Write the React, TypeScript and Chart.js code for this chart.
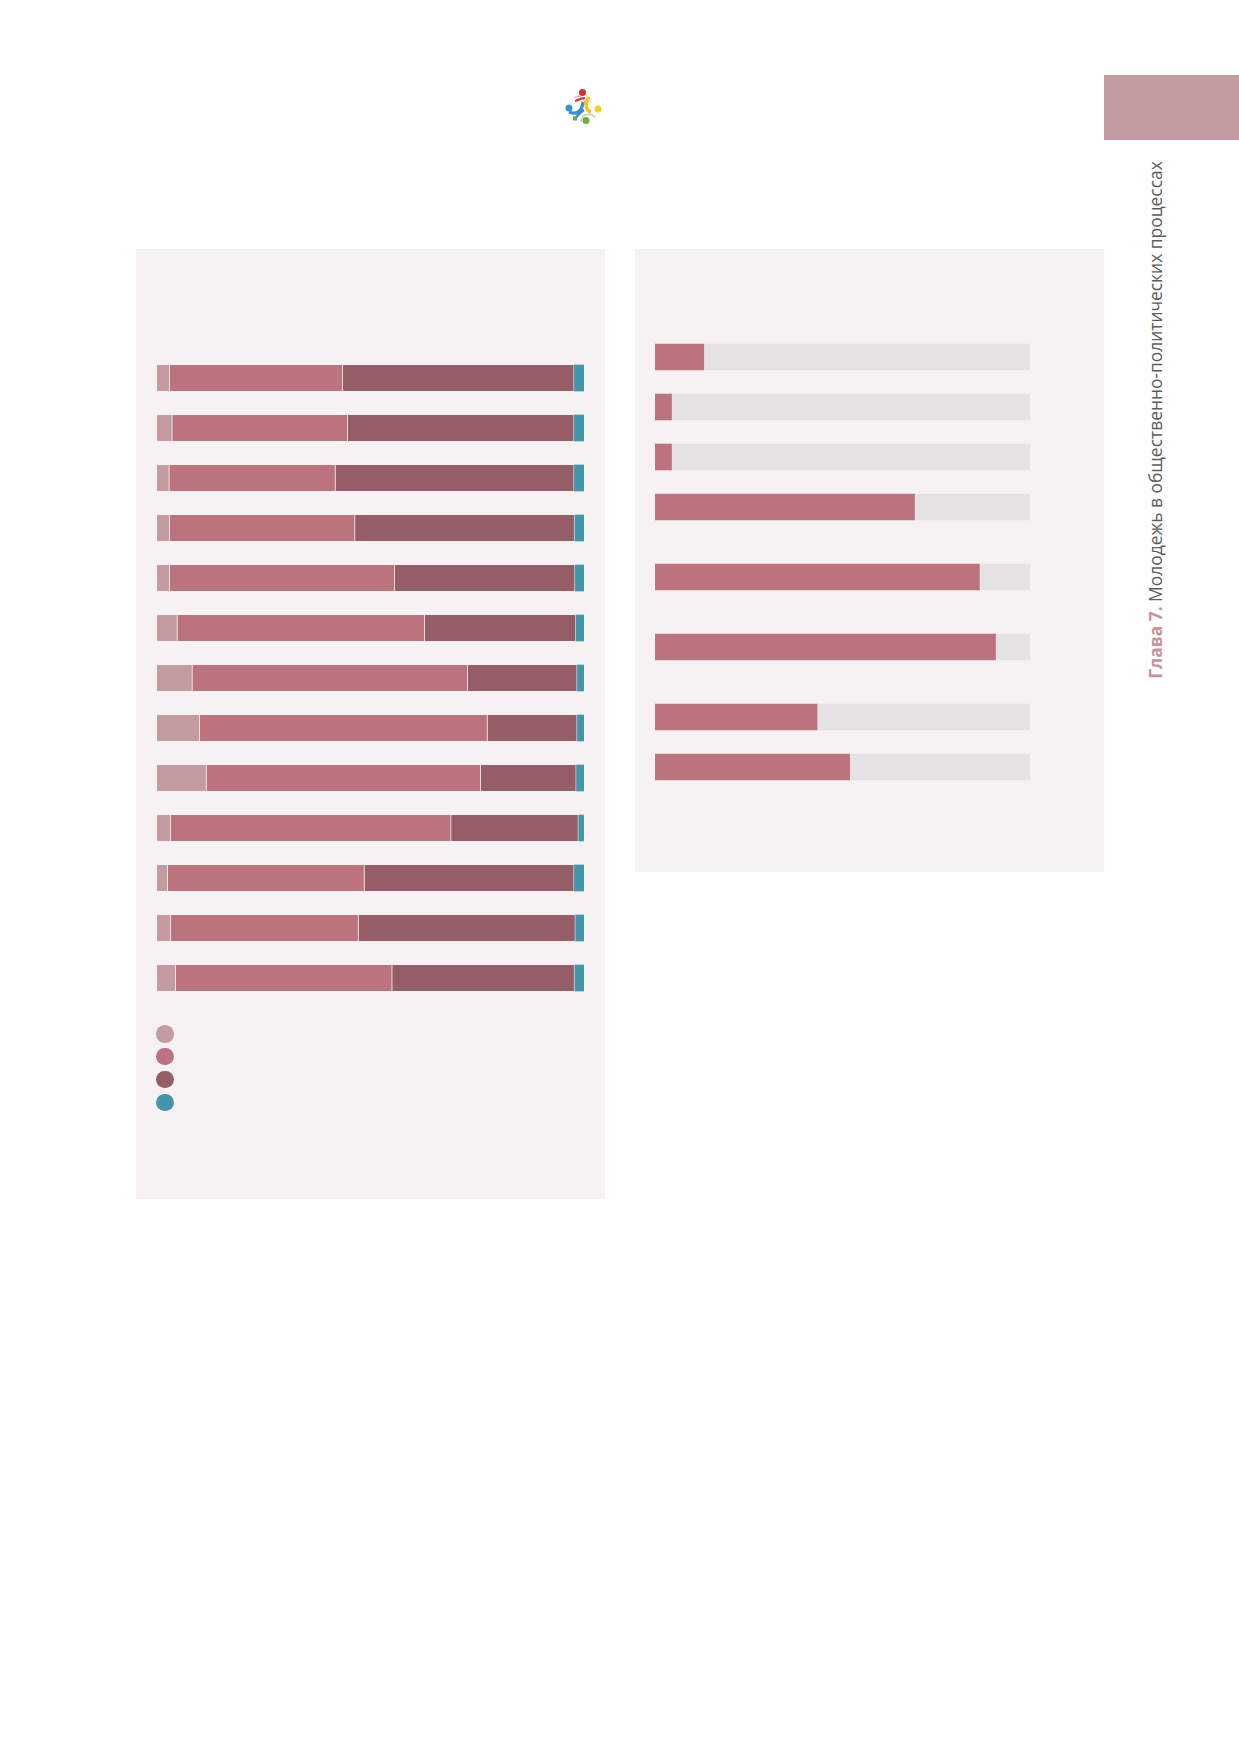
import React, { useEffect, useRef } from "react";
import { Chart, registerables } from "chart.js";

Chart.register(...registerables);

// ---------- Left chart data (stacked 100% bars) ----------
const leftCategories = [
  "Строка 1", "Строка 2", "Строка 3", "Строка 4", "Строка 5", "Строка 6", "Строка 7",
  "Строка 8", "Строка 9", "Строка 10", "Строка 11", "Строка 12", "Строка 13",
];
const seriesNames = ["Серия 1", "Серия 2", "Серия 3", "Серия 4"];
const series1 = [3.0, 3.6, 2.9, 3.0, 3.0, 4.8, 8.3, 10.0, 11.6, 3.2, 2.5, 3.2, 4.4];
const series2 = [40.5, 41.1, 38.9, 43.4, 52.7, 57.9, 64.5, 67.4, 64.2, 65.7, 46.1, 44.0, 50.7];
const series3 = [54.2, 53.0, 55.9, 51.4, 42.2, 35.4, 25.6, 21.0, 22.4, 29.8, 49.1, 50.8, 42.7];
const series4 = [2.3, 2.3, 2.3, 2.2, 2.1, 1.9, 1.6, 1.6, 1.8, 1.3, 2.3, 2.0, 2.2];
const seriesColors = ["#c49ba1", "#bc737d", "#955e66", "#4396a9"];

// ---------- Right chart data ----------
const rightCategories = [
  "Пункт 1", "Пункт 2", "Пункт 3", "Пункт 4", "Пункт 5", "Пункт 6", "Пункт 7", "Пункт 8",
];
const rightValues = [13.0, 4.4, 4.4, 69.2, 86.5, 90.8, 43.2, 51.9];
// row slots on the category axis (uneven spacing of the original layout)
const rightRowSlots = [0, 1, 2, 3, 4.4, 5.8, 7.2, 8.2];

const PANEL_BG = "#f6f2f3";
const TRACK = "#e4e2e3";
const FILL = "#bc737d";

function LeftChart() {
  const ref = useRef<HTMLCanvasElement | null>(null);
  useEffect(() => {
    if (!ref.current) return;
    const all = [series1, series2, series3, series4];
    const chart = new Chart(ref.current, {
      type: "bar",
      data: {
        labels: leftCategories,
        datasets: all.map((d, i) => ({
          label: seriesNames[i],
          data: d,
          backgroundColor: seriesColors[i],
          borderColor: "rgba(255,255,255,0.35)",
          borderWidth: i < 3 ? { right: 1 } : 0,
          borderSkipped: "start",
          barThickness: 26,
        })),
      },
      options: {
        indexAxis: "y",
        animation: false,
        responsive: true,
        maintainAspectRatio: false,
        layout: { padding: 0 },
        plugins: { legend: { display: false }, tooltip: { enabled: false } },
        scales: {
          x: { stacked: true, min: 0, max: 100, display: false },
          y: { stacked: true, display: false },
        },
      },
    });
    return () => chart.destroy();
  }, []);
  return <canvas ref={ref} />;
}

function RightChart() {
  const ref = useRef<HTMLCanvasElement | null>(null);
  useEffect(() => {
    if (!ref.current) return;
    const filled = rightValues.map((v, i) => ({ x: v, y: rightRowSlots[i] }));
    const rest = rightValues.map((v, i) => ({ x: 100 - v, y: rightRowSlots[i] }));
    const chart = new Chart(ref.current, {
      type: "bar",
      data: {
        labels: rightCategories,
        datasets: [
          { label: "Доля", data: filled as any, backgroundColor: FILL, barThickness: 26 },
          { label: "Остаток", data: rest as any, backgroundColor: TRACK, barThickness: 26 },
        ],
      },
      options: {
        indexAxis: "y",
        animation: false,
        responsive: true,
        maintainAspectRatio: false,
        layout: { padding: 0 },
        plugins: { legend: { display: false }, tooltip: { enabled: false } },
        scales: {
          x: { type: "linear", stacked: true, min: 0, max: 100, display: false },
          y: {
            type: "linear",
            stacked: true,
            offset: false,
            min: -0.5,
            max: 8.7,
            reverse: true,
            display: false,
          },
        },
      },
    });
    return () => chart.destroy();
  }, []);
  return <canvas ref={ref} />;
}

function Logo() {
  return (
    <svg width="44" height="44" viewBox="0 0 44 44" style={{ position: "absolute", left: 561, top: 85 }}>
      <path d="M13 13 C 18 9, 24 13, 24 20" stroke="#d9bcc3" strokeWidth="1.4" fill="none" />
      <path d="M20 37 C 21 29, 28 27, 34 32" stroke="#d9bcc3" strokeWidth="1.4" fill="none" />
      <path d="M8 27 C 15 30, 21 27, 22 17" stroke="#3a8fd0" strokeWidth="3.2" fill="none" />
      <path d="M28 12 C 24 18, 24 25, 30 27" stroke="#f2c81c" strokeWidth="3.6" fill="none" />
      <path d="M14 16 C 18 15, 20 13, 24 13" stroke="#d93030" strokeWidth="2.2" fill="none" />
      <path d="M14 34 C 17 30, 19 27, 23 25" stroke="#3a8fd0" strokeWidth="2.6" fill="none" />
      <circle cx="21.5" cy="7.5" r="3.5" fill="#d92b2b" />
      <circle cx="37" cy="24" r="3.5" fill="#f5d020" />
      <circle cx="25" cy="35.5" r="3.5" fill="#6fae3a" />
      <circle cx="8" cy="23" r="3.5" fill="#3a8fd0" />
      <rect x="12" y="31.5" width="4" height="4" fill="#6fae3a" />
    </svg>
  );
}

export default function App() {
  useEffect(() => {
    document.body.style.margin = "0";
  }, []);
  return (
    <div
      style={{
        position: "relative",
        width: 1239,
        height: 1752,
        background: "#fefefe",
        overflow: "hidden",
        fontFamily: "'Open Sans', sans-serif",
      }}
    >
      <Logo />

      {/* left panel */}
      <div style={{ position: "absolute", left: 136, top: 249, width: 469, height: 950, background: PANEL_BG }} />
      <div style={{ position: "absolute", left: 157, top: 353, width: 427, height: 650 }}>
        <LeftChart />
      </div>
      {seriesColors.map((c, i) => (
        <div
          key={i}
          title={seriesNames[i]}
          style={{
            position: "absolute",
            left: 165 - 8.7,
            top: 1034 + i * 22.8 - 8.7,
            width: 17.4,
            height: 17.4,
            borderRadius: "50%",
            background: c,
          }}
        />
      ))}

      {/* right panel */}
      <div style={{ position: "absolute", left: 635, top: 249, width: 469, height: 623, background: PANEL_BG }} />
      <div style={{ position: "absolute", left: 655, top: 332, width: 375, height: 460 }}>
        <RightChart />
      </div>

      {/* sidebar */}
      <div style={{ position: "absolute", left: 1104, top: 75, width: 135, height: 65, background: "#c49ba1" }} />
      <div
        style={{
          position: "absolute",
          left: 1155,
          top: 420,
          transform: "translate(-50%, -50%) rotate(-90deg)",
          whiteSpace: "nowrap",
          fontSize: 17.4,
          color: "#5d5d5d",
        }}
      >
        <span style={{ color: "#c4939b", fontWeight: 700 }}>Глава 7.</span> Молодежь в общественно-политических процессах
      </div>
    </div>
  );
}
